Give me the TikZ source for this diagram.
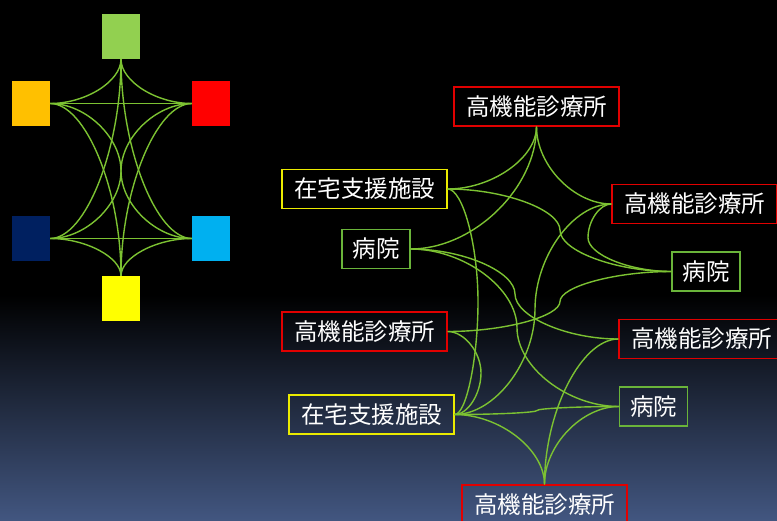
\documentclass[tikz,border=0pt]{standalone}
\usepackage{fontspec}
\newfontfamily\jp{Noto Sans CJK JP}
\usetikzlibrary{calc}
\definecolor{lk}{RGB}{124,194,50}
\definecolor{sqgreen}{RGB}{146,208,80}
\definecolor{sqorange}{RGB}{255,192,0}
\definecolor{sqred}{RGB}{255,0,0}
\definecolor{sqnavy}{RGB}{0,32,96}
\definecolor{sqcyan}{RGB}{0,176,240}
\definecolor{sqyellow}{RGB}{255,255,0}
\definecolor{bred}{RGB}{225,0,0}
\definecolor{byel}{RGB}{235,235,0}
\definecolor{bgrn}{RGB}{106,180,58}
\definecolor{bgbot}{RGB}{66,86,128}
\tikzset{
  sq/.style={minimum width=38pt,minimum height=45pt,inner sep=0pt,draw=none},
  lbl/.style={inner sep=0pt,minimum height=39pt,line width=1.4pt,text=white,
    font=\jp\fontsize{23.5}{28}\selectfont},
  kbox/.style={lbl,draw=bred,minimum width=165pt},
  ybox/.style={lbl,draw=byel,minimum width=165pt},
  gbox/.style={lbl,draw=bgrn,minimum width=68pt},
  link/.style={draw=lk,line width=1.4pt},
  cs/.style={to path={let \p1=(\tikztostart),\p2=(\tikztotarget) in
    .. controls ({(\x1+#1pt)/2},\y1) and (#1pt,{(3*\y1+\y2)/4}) .. (#1pt,{(\y1+\y2)/2})
    .. controls (#1pt,{(\y1+3*\y2)/4}) and ({(#1pt+\x2)/2},\y2) .. (\tikztotarget)}},
  cvh/.style={to path={let \p1=(\tikztostart),\p2=(\tikztotarget) in
    .. controls (\x1,{(\y1+\y2)/2}) and ({(\x1+\x2)/2},\y2) .. (\tikztotarget)}},
  chv/.style={to path={let \p1=(\tikztostart),\p2=(\tikztotarget) in
    .. controls ({(\x1+\x2)/2},\y1) and (\x2,{(\y1+\y2)/2}) .. (\tikztotarget)}},
}
\begin{document}
\begin{tikzpicture}[x=1pt,y=-1pt]
\useasboundingbox (0,0) rectangle (777,520);
\clip (0,0) rectangle (777,520);
\fill[black] (0,0) rectangle (777,296);
\shade[top color=black,bottom color=bgbot] (0,295) rectangle (777,520);
% left squares
\node[sq,fill=sqgreen]  (sg) at (121,36.5) {};
\node[sq,fill=sqorange] (so) at (31,103.5) {};
\node[sq,fill=sqred]    (sr) at (211,103.5) {};
\node[sq,fill=sqnavy]   (sn) at (31,238.5) {};
\node[sq,fill=sqcyan]   (sc) at (211,238.5) {};
\node[sq,fill=sqyellow] (sy) at (121,298.5) {};
\path[link] (so.east) -- (sr.west);
\path[link] (sn.east) -- (sc.west);
\path[link] (sg.south) to[cvh] (so.east);
\path[link] (sg.south) to[cvh] (sr.west);
\path[link] (sg.south) to[cvh] (sn.east);
\path[link] (sg.south) to[cvh] (sc.west);
\path[link] (sy.north) to[cvh] (so.east);
\path[link] (sy.north) to[cvh] (sr.west);
\path[link] (sy.north) to[cvh] (sn.east);
\path[link] (sy.north) to[cvh] (sc.west);
\path[link] (so.east) to[cs=121] (sc.west);
\path[link] (sr.west) to[cs=121] (sn.east);
% right network
\node[kbox] (t1) at (536.5,106.5) {高機能診療所};
\node[ybox] (y1) at (364.5,189) {在宅支援施設};
\node[gbox] (g1) at (376,249) {病院};
\node[kbox] (r2) at (694.5,204) {高機能診療所};
\node[gbox] (g2) at (706,271.5) {病院};
\node[kbox] (r3) at (364.5,331.5) {高機能診療所};
\node[kbox] (r4) at (701.5,339) {高機能診療所};
\node[ybox] (y2) at (371.5,414.5) {在宅支援施設};
\node[gbox] (g3) at (653.5,406.5) {病院};
\node[kbox] (r5) at (544.5,504.5) {高機能診療所};
\path[link] (t1.south) to[cvh] (y1.east);
\path[link] (t1.south) to[cvh] (g1.east);
\path[link] (t1.south) to[cvh] (r2.west);
\path[link] (y1.east) to[cs=560] (g2.west);
\path[link] (y1.east) to[cs=478] (y2.east);
\path[link] (g1.east) to[cs=515] (r4.west);
\path[link] (g1.east) to[cs=517] (g3.west);
\path[link] (r2.west) to[cs=588] (g2.west);
\path[link] (r2.west) to[cs=535] (y2.east);
\path[link] (r3.east) to[cs=560] (g2.west);
\path[link] (r3.east) to[cs=481] (y2.east);
\path[link] (r4.west) to[chv] (r5.north);
\path[link] (g3.west) to[chv] (r5.north);
\path[link] (y2.east) to[chv] (r5.north);
\path[link] (y2.east) to[cs=537] (g3.west);
\end{tikzpicture}
\end{document}
